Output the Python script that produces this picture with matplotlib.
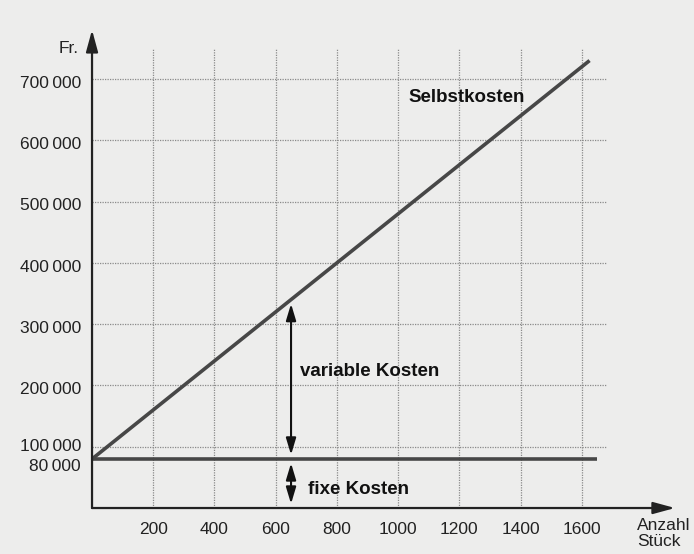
import matplotlib
matplotlib.use('Agg')
import matplotlib.pyplot as plt
from matplotlib.transforms import ScaledTranslation

# data
stueck = [0, 1625]
selbstkosten = [80000, 730000]
fixe_kosten = [80000, 80000]
x_ticks = [200, 400, 600, 800, 1000, 1200, 1400, 1600]
y_ticks = [80000, 100000, 200000, 300000, 400000, 500000, 600000, 700000]
y_labels = ['80\u2009000', '100\u2009000', '200\u2009000', '300\u2009000', '400\u2009000',
            '500\u2009000', '600\u2009000', '700\u2009000']
grid_y = [100000, 200000, 300000, 400000, 500000, 600000, 700000]
arrow_x = 650
var_top = 80000 + 400 * arrow_x

plt.rcParams['font.family'] = ['Liberation Sans', 'DejaVu Sans']

fig = plt.figure(figsize=(6.94, 5.54), dpi=100, facecolor='#ededec')
ax = fig.add_axes([0.1326, 0.083, 0.84, 0.863])
ax.set_facecolor('#ededec')
ax.set_xlim(0, 1904)
ax.set_ylim(0, 780000)
for s in ax.spines.values():
    s.set_visible(False)

# dotted grid
ax.vlines(x_ticks, 0, 750000, colors='#8a8a8a', linestyles=(0, (1, 1)), linewidth=0.9)
ax.hlines(grid_y, 0, 1680, colors='#8a8a8a', linestyles=(0, (1, 1)), linewidth=0.9)

# axes with arrows
axis_arrow = dict(arrowstyle='-|>,head_length=1.1,head_width=0.3', color='#222222',
                  lw=1.6, mutation_scale=12, shrinkA=0, shrinkB=0)
ax.annotate('', xy=(1904, 0), xytext=(0, 0), arrowprops=axis_arrow)
ax.annotate('', xy=(0, 780000), xytext=(0, 0), arrowprops=axis_arrow)

ax.plot(stueck, selbstkosten, color='#474747', lw=2.6, solid_capstyle='butt')
ax.plot([0, 1650], fixe_kosten, color='#474747', lw=2.6, solid_capstyle='butt')

# double arrows
dbl = dict(arrowstyle='<|-|>,head_length=1.0,head_width=0.3', color='#111111', lw=1.5,
           mutation_scale=10, shrinkA=3, shrinkB=3)
ax.annotate('', xy=(arrow_x, var_top), xytext=(arrow_x, 80000), arrowprops=dbl)
ax.annotate('', xy=(arrow_x, 80000), xytext=(arrow_x, 0), arrowprops=dbl)

ax.text(679, 222000, 'variable Kosten', fontsize=13.5, fontweight='bold', va='center', color='#111111')
ax.text(705, 31000, 'fixe Kosten', fontsize=13.5, fontweight='bold', va='center', color='#111111')
ax.text(1032, 670500, 'Selbstkosten', fontsize=13.5, fontweight='bold', va='center', color='#111111')

ax.set_xticks(x_ticks)
ax.set_xticklabels([str(v) for v in x_ticks], fontsize=12.5, color='#222222')
ax.set_yticks(y_ticks)
ax.set_yticklabels(y_labels, fontsize=12.5, color='#222222')
ax.tick_params(length=0, pad=10)
ax.tick_params(axis='y', pad=8)
for lab in ax.get_yticklabels():
    dy = -2
    if lab.get_text().startswith('100'):
        dy = 1
    elif lab.get_text().startswith('80'):
        dy = -4
    lab.set_transform(lab.get_transform() + ScaledTranslation(0, dy / 72, fig.dpi_scale_trans))

ax.text(-42, 750000, 'Fr.', fontsize=12.5, ha='right', va='center', color='#222222')
ax.text(1780, -42000, 'Anzahl\nStück', fontsize=12.5, ha='left', va='center', color='#222222',
        linespacing=1.05)

fig.savefig('out.png', dpi=100, facecolor=fig.get_facecolor())
